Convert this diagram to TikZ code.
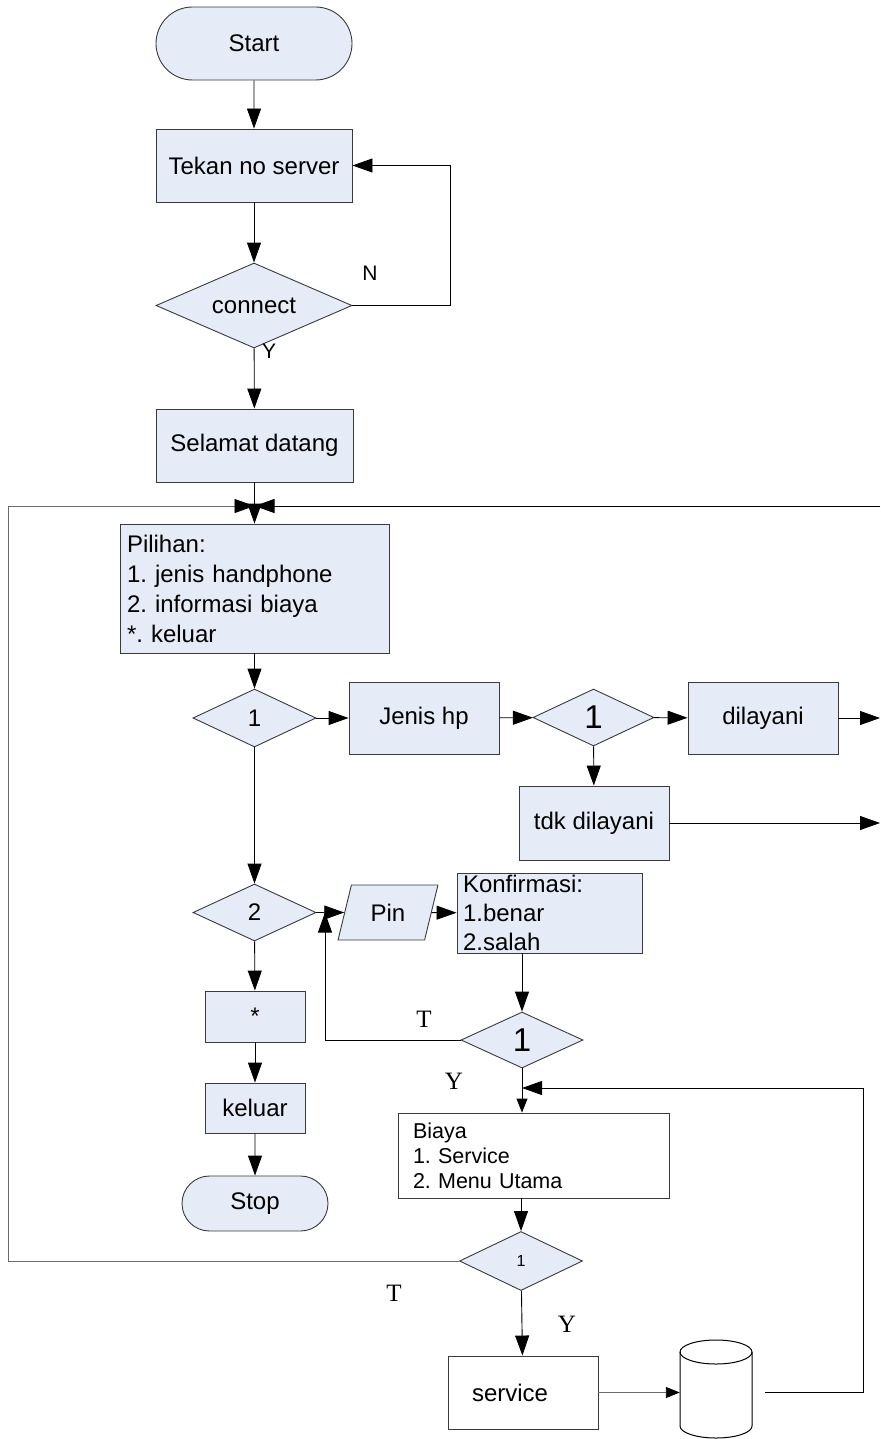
\documentclass[tikz,border=0pt]{standalone}
\usepackage{fontspec}
\setmainfont{Liberation Sans}
\newfontfamily\tnr{Liberation Serif}
\usetikzlibrary{shapes.geometric,shapes.misc,arrows.meta}
\definecolor{boxfill}{HTML}{E6ECF7}
\definecolor{edgec}{HTML}{3A3A3A}
\definecolor{lgray}{HTML}{6A6A6A}
\frenchspacing
\begin{document}
\begin{tikzpicture}[x=1pt,y=-1pt,
  base/.style={draw=edgec, line width=0.9pt, inner sep=0pt, text=black, font=\fontsize{24}{28}\selectfont},
  proc/.style={base, rectangle, fill=boxfill},
  wproc/.style={base, rectangle, fill=white},
  term/.style={base, rounded rectangle, fill=boxfill},
  dec/.style={base, diamond, fill=boxfill, shape aspect=2.15},
  arr/.style={-{Triangle[length=20pt,width=14pt,color=black]}, line width=0.9pt, draw=black},
  sarr/.style={-{Triangle[length=14pt,width=11pt,color=black]}, line width=0.9pt, draw=black},
  lbl/.style={inner sep=0pt, font=\fontsize{21}{24}\selectfont},
  slbl/.style={inner sep=0pt, font=\tnr\fontsize{25}{28}\selectfont}
]
\useasboundingbox (0,0) rectangle (880,1439);

% nodes
\node[term, minimum width=196pt, minimum height=73pt] (start) at (254,43.5) {Start};
\node[proc, minimum width=196pt, minimum height=73pt] (tekan) at (254,165.5) {Tekan no server};
\node[dec, minimum width=196pt, minimum height=85pt, shape aspect=2.3] (conn) at (254,305.5) {connect};
\node[proc, minimum width=197pt, minimum height=73pt] (selamat) at (254.5,445.5) {Selamat datang};
\node[proc, minimum width=269pt, minimum height=129pt, text width=255pt, align=left,
      font=\fontsize{24}{30}\selectfont] (pilihan) at (254.5,588.5)
      {Pilihan:\\1. jenis handphone\\2. informasi biaya\\{}*. keluar};
\node[dec, minimum width=123pt, minimum height=58pt] (d1) at (254.5,718) {1};
\node[proc, minimum width=150pt, minimum height=72pt] (jenis) at (424,718) {Jenis hp};
\node[dec, minimum width=121pt, minimum height=57pt, font=\fontsize{33}{36}\selectfont] (d1b) at (593.5,717.5) {1};
\node[proc, minimum width=150pt, minimum height=72pt] (dilayani) at (763,718) {dilayani};
\node[proc, minimum width=150pt, minimum height=74pt] (tdk) at (594,823) {tdk dilayani};
\node[dec, minimum width=123pt, minimum height=57pt] (d2) at (254.5,912.5) {2};
\node[base, trapezium, trapezium left angle=70, trapezium right angle=110, trapezium stretches=true,
      fill=boxfill, minimum width=100pt, minimum height=55pt] (pin) at (388,912.5) {Pin};
\node[proc, minimum width=185pt, minimum height=80pt, text width=173pt, align=left,
      font=\fontsize{24}{29}\selectfont] (konf) at (549.5,913)
      {Konfirmasi:\\1.benar\\2.salah};
\node[proc, minimum width=100pt, minimum height=51pt] (star) at (255,1016.5) {*};
\node[proc, minimum width=100pt, minimum height=50pt] (keluar) at (255,1108) {keluar};
\node[term, minimum width=146pt, minimum height=55pt] (stop) at (255,1203.5) {Stop};
\node[dec, minimum width=122pt, minimum height=56pt, font=\fontsize{33}{36}\selectfont] (d3) at (522,1040) {1};
\node[wproc, minimum width=271pt, minimum height=85pt, text width=241pt, align=left,
      font=\fontsize{21.5}{25}\selectfont] (biaya) at (533.5,1155.5)
      {Biaya\\1. Service\\2. Menu Utama};
\node[dec, minimum width=123pt, minimum height=59pt, font=\fontsize{16}{18}\selectfont] (d4) at (521,1261) {1};
\node[wproc, minimum width=150pt, minimum height=73pt, text width=102pt, align=left] (service) at (523,1392.5) {service};
\node[rectangle, inner sep=0pt, minimum width=72pt, minimum height=98pt] (cyl) at (716,1389) {};
\draw[line width=1pt, draw=black, fill=white]
  (680,1352) -- (680,1426) arc[start angle=180, end angle=360, x radius=36, y radius=-12]
  -- (752,1352) arc[start angle=0, end angle=180, x radius=36, y radius=-12] -- cycle;
\draw[line width=1pt, draw=black]
  (680,1352) arc[start angle=180, end angle=360, x radius=36, y radius=-12];

% coordinates
\coordinate (j) at (254.5,506);
\coordinate (rj) at (880,506);
\coordinate (lt) at (8,506);
\coordinate (e1) at (880,718);
\coordinate (e2) at (880,823);
\coordinate (tx) at (325,1040);
\coordinate (cr) at (765,1392.5);
\coordinate (rr) at (863,1392.5);
\coordinate (rt) at (863,1088);
\coordinate (rj2) at (522,1088);
\coordinate (nx) at (450,305.5);

% connectors
\draw[arr] (start) -- (tekan);
\draw[arr] (tekan) -- (conn);
\draw[arr] (conn.east) -- (nx) -- (nx |- tekan.east) -- (tekan.east);
\draw[arr] (conn) -- (selamat);
\draw[arr] (selamat) -- (pilihan);
\draw[arr] (rj) -- (j);
\draw[arr, draw=lgray] (d4.west) -- (d4.west -| lt) -- (lt) -- (j);
\draw[arr] (pilihan) -- (d1);
\draw[arr] (d1) -- (jenis);
\draw[arr] (jenis) -- (d1b);
\draw[arr] (d1b) -- (dilayani);
\draw[arr] (dilayani) -- (e1);
\draw[arr] (d1b) -- (tdk);
\draw[arr] (tdk) -- (e2);
\draw[arr] (d1) -- (d2);
\draw[arr] (d2) -- (pin);
\draw[arr] (pin) -- (konf);
\draw[arr] (d2) -- (star);
\draw[arr] (star) -- (keluar);
\draw[arr] (keluar) -- (stop);
\draw[arr] (konf.south -| d3.north) -- (d3.north);
\draw[arr] (d3.west) -- (tx) -- (tx |- d2.east);
\draw[sarr] (d3.south) -- (d3.south |- biaya.north);
\draw[arr] (cr) -- (rr) -- (rt) -- (rj2);
\draw[arr] (biaya.south -| d4.north) -- (d4.north);
\draw[arr] (d4) -- (service);
\draw[sarr, draw=lgray] (service.east) -- (service.east -| cyl.west);

% labels
\node[lbl] (ln) at (370,273) {N};
\node[lbl] (ly1) at (269,351) {Y};
\node[slbl] (lt1) at (424,1019) {T};
\node[slbl] (ly2) at (454,1081) {Y};
\node[slbl] (lt2) at (394,1293) {T};
\node[slbl] (ly3) at (567,1324) {Y};
\end{tikzpicture}
\end{document}
